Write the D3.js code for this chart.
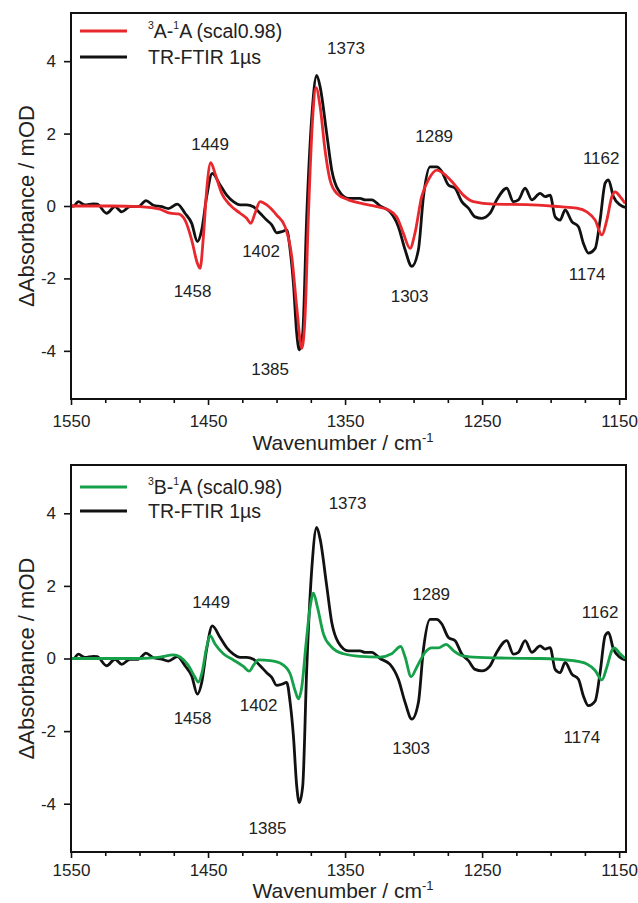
<!DOCTYPE html>
<html>
<head>
<meta charset="utf-8">
<script src="https://cdn.jsdelivr.net/npm/d3@7"></script>
<style>
  body { margin: 0; background: #fff; }
  svg text { font-family: "Liberation Sans", Arial, sans-serif; fill: #222; }
</style>
</head>
<body>
<svg id="chart" width="638" height="903"></svg>
<script>
// TR-FTIR 1us experimental spectrum (same in both panels)
const expWn = [1550, 1548, 1544.7, 1539.8, 1533.7, 1530.8, 1524, 1517.9, 1513, 1506.9, 1500.9, 1495.3, 1489.9, 1483.8, 1479, 1472.4,
  1466.8, 1461.9, 1457.8, 1454.6, 1451, 1446.9, 1441.2, 1436.4, 1431.5, 1426.6, 1421.8, 1416.9, 1412, 1407.2, 1403.5, 1399.9,
  1396.2, 1392.6, 1390.1, 1387.7, 1385.3, 1383.4, 1380.9, 1378, 1374.3, 1370.7, 1368.2, 1363.4, 1359.7, 1354.9, 1347.6, 1339.1,
  1335.4, 1330.5, 1324.5, 1317.2, 1311.1, 1306.2, 1301.3, 1296.5, 1292.8, 1288, 1283.1, 1279.4, 1274.6, 1269.7, 1264.8, 1260,
  1255.1, 1250.2, 1244.2, 1239.3, 1232, 1227.2, 1223.5, 1218.6, 1213.7, 1207.7, 1204, 1200.4, 1196.7, 1193.1, 1189.4, 1184.5,
  1179.7, 1176.1, 1172.4, 1167.5, 1163.9, 1160.2, 1157.8, 1154.2, 1149.3, 1145.6];
const expAbs = [0, 0, 0.12, 0.03, 0.06, 0.05, -0.2, -0.02, -0.16, -0.02, -0.02, 0.15, 0.02, -0.02, -0.07, 0.05,
  -0.2, -0.48, -0.98, -0.66, 0.26, 0.9, 0.58, 0.3, 0.12, 0.03, 0.03, -0.02, -0.2, -0.39, -0.52, -0.74,
  -0.71, -0.66, -1.21, -2.13, -3.51, -3.97, -3.51, -0.3, 2.46, 3.61, 3.29, 2.0, 0.99, 0.44, 0.21, 0.21,
  0.17, 0.17, 0.0, -0.16, -0.57, -1.21, -1.67, -1.21, 0.26, 1.08, 1.08, 0.95, 0.58, 0.49, 0.12, -0.06,
  -0.3, -0.34, -0.2, 0.17, 0.49, 0.12, 0.17, 0.49, 0.17, 0.35, 0.26, 0.3, -0.3, -0.39, -0.11, -0.43,
  -0.57, -1.03, -1.3, -1.17, -0.39, 0.63, 0.72, 0.26, 0.03, -0.04];

// 3A-1A computed (scaled 0.98)
const calcAWn = [1550, 1520, 1500, 1485, 1477.7, 1471.7, 1466.8, 1461.9, 1457.8, 1455.8, 1453.4, 1451, 1448, 1444.9, 1440, 1434,
  1426.6, 1421.8, 1418.8, 1415.7, 1412, 1407.2, 1399.9, 1393.8, 1388.9, 1385.3, 1381.6, 1379.2, 1376.8, 1373.6, 1371.2, 1368.2,
  1364.6, 1361, 1356.1, 1347.6, 1336.7, 1326.9, 1318.4, 1312.3, 1307.5, 1302.6, 1299, 1294.1, 1289.2, 1283.1, 1278.3, 1271,
  1263.7, 1256.4, 1241.8, 1217.4, 1193.1, 1180.9, 1173.6, 1167.5, 1162.6, 1159, 1155.3, 1152.9, 1149.3, 1145.6];
const calcAAbs = [0, 0, -0.02, -0.09, -0.2, -0.22, -0.39, -0.94, -1.58, -1.72, -0.85, 0.44, 1.2, 0.9, 0.35, 0.03,
  -0.2, -0.34, -0.48, -0.2, 0.12, 0.03, -0.25, -0.57, -1.4, -2.78, -3.93, -3.05, -0.3, 2.46, 3.27, 2.74,
  1.54, 0.72, 0.35, 0.17, 0.06, -0.02, -0.11, -0.3, -0.75, -1.17, -0.75, 0.26, 0.72, 0.99, 0.9, 0.63,
  0.3, 0.12, 0.05, 0.04, -0.02, -0.06, -0.16, -0.39, -0.8, -0.39, 0.26, 0.39, 0.26, 0.07];

// 3B-1A computed (scaled 0.98)
const calcBWn = [1550, 1500, 1485, 1475.3, 1470.4, 1464.4, 1459.5, 1457.1, 1454.6, 1451, 1448.5, 1444.9, 1438.8, 1431.5, 1424.2,
  1419.9, 1416.9, 1413.3, 1404.7, 1396.2, 1390.1, 1386.5, 1384.1, 1381.6, 1378.5, 1375.5, 1373.1, 1370.2, 1365.8, 1359.7, 1351.2,
  1339.1, 1324.5, 1316, 1309.4, 1306.2, 1301.8, 1297.7, 1291.6, 1286.8, 1281.9, 1276.3, 1271, 1264.8, 1256.4, 1232, 1207.7,
  1183.4, 1173.6, 1167.5, 1162.6, 1159, 1155.3, 1153.6, 1149.3, 1145.6];
const calcBAbs = [0, 0, 0.04, 0.1, 0.04, -0.19, -0.52, -0.65, -0.42, 0.31, 0.63, 0.4, 0.13, -0.04, -0.22,
  -0.35, -0.19, -0.04, -0.06, -0.15, -0.42, -0.88, -1.11, -0.79, 0.4, 1.42, 1.8, 1.42, 0.68, 0.31, 0.13,
  0.06, 0.04, 0.13, 0.33, 0.04, -0.5, -0.24, 0.17, 0.29, 0.29, 0.39, 0.22, 0.08, 0.04, 0.01, 0,
  -0.06, -0.15, -0.33, -0.59, -0.24, 0.22, 0.29, 0.13, 0];

// peak annotations: text and label position [wavenumber, mOD]
const peakLabels = ["1449", "1373", "1289", "1162", "1458", "1402", "1385", "1303", "1174"];
const peakPosTop = [[1448.5, 1.71], [1349.3, 4.36], [1285.0, 1.93], [1163.1, 1.32], [1461.3, -2.37],
  [1411.3, -1.27], [1404.7, -4.52], [1302.9, -2.51], [1173.4, -1.88]];
const peakPosBottom = [[1447.8, 1.54], [1348.2, 4.28], [1287.2, 1.77], [1163.9, 1.27], [1461.3, -1.66],
  [1413.1, -1.30], [1406.6, -4.69], [1301.8, -2.48], [1177.2, -2.18]];

const xMajor = [1550, 1450, 1350, 1250, 1150];
const xMinor = [1525, 1500, 1475, 1425, 1400, 1375, 1325, 1300, 1275, 1225, 1200, 1175];
const yTicks = [-4, -2, 0, 2, 4];

const svg = d3.select("#chart");

const x = d3.scaleLinear().domain([1550, 1145]).range([71, 626]);

function drawPanel(p) {
  const y = d3.scaleLinear().domain([-5.33, 5.33]).range([p.bottom, p.top]);
  const g = svg.append("g");

  const clipId = "clip" + p.id;
  g.append("clipPath").attr("id", clipId)
    .append("rect")
    .attr("x", 71).attr("y", p.top)
    .attr("width", 555).attr("height", p.bottom - p.top);

  const line = d3.line()
    .x(d => x(d[0]))
    .y(d => y(d[1]))
    .curve(d3.curveMonotoneX);

  const expData = expWn.map((w, i) => [w, expAbs[i]]);
  const calcData = p.calcWn.map((w, i) => [w, p.calcAbs[i]]);

  const curves = g.append("g").attr("clip-path", `url(#${clipId})`);
  curves.append("path").datum(expData)
    .attr("d", line).attr("fill", "none")
    .attr("stroke", "#111").attr("stroke-width", 2.8).attr("stroke-linejoin", "round");
  curves.append("path").datum(calcData)
    .attr("d", line).attr("fill", "none")
    .attr("stroke", p.color).attr("stroke-width", 2.8).attr("stroke-linejoin", "round");

  // axes
  g.append("g").attr("transform", `translate(0,${p.bottom})`)
    .call(d3.axisBottom(x).tickValues(xMajor).tickSize(6).tickPadding(p.xPad).tickFormat(d3.format("d")));
  g.append("g").attr("transform", `translate(0,${p.bottom})`)
    .call(d3.axisBottom(x).tickValues(xMinor).tickSize(4).tickFormat(""));
  g.append("g").attr("transform", "translate(71,0)")
    .call(d3.axisLeft(y).tickValues(yTicks).tickSize(7).tickPadding(8).tickFormat(d => String(d)));

  g.selectAll(".domain").remove();
  g.selectAll(".tick line").attr("stroke", "#111").attr("stroke-width", 1.6);
  g.selectAll(".tick text").attr("font-size", 17)
    .attr("font-family", "'Liberation Sans', Arial, sans-serif").attr("fill", "#222");

  // frame
  g.append("rect")
    .attr("x", 71).attr("y", p.top)
    .attr("width", 555).attr("height", p.bottom - p.top)
    .attr("fill", "none").attr("stroke", "#111").attr("stroke-width", 2);

  // peak labels
  g.selectAll(".peak").data(p.peaks).enter().append("text")
    .attr("class", "peak")
    .attr("x", d => x(d[0]))
    .attr("y", d => y(d[1]))
    .attr("text-anchor", "middle")
    .attr("dominant-baseline", "central")
    .attr("font-size", 17)
    .text((d, i) => peakLabels[i]);

  // legend
  const leg = g.append("g");
  leg.append("line").attr("x1", 80).attr("x2", 127).attr("y1", p.legY[0]).attr("y2", p.legY[0])
    .attr("stroke", p.color).attr("stroke-width", 3);
  leg.append("line").attr("x1", 80).attr("x2", 127).attr("y1", p.legY[1]).attr("y2", p.legY[1])
    .attr("stroke", "#111").attr("stroke-width", 3);
  const t1 = leg.append("text").attr("x", 148).attr("y", p.legY[0])
    .attr("dominant-baseline", "central").attr("font-size", 19.5);
  t1.append("tspan").attr("font-size", 10.5).attr("dy", -6).text(p.state);
  t1.append("tspan").attr("dy", 6).text(p.stateLetter + "-");
  t1.append("tspan").attr("font-size", 10.5).attr("dy", -6).text("1");
  t1.append("tspan").attr("dy", 6).text("A (scal0.98)");
  leg.append("text").attr("x", 148).attr("y", p.legY[1])
    .attr("dominant-baseline", "central").attr("font-size", 19.5)
    .text("TR-FTIR 1\u00b5s");

  // axis titles
  const xt = g.append("text").attr("x", 343).attr("y", p.bottom + p.titleOff)
    .attr("text-anchor", "middle").attr("font-size", 21);
  xt.append("tspan").text("Wavenumber / cm");
  xt.append("tspan").attr("font-size", 13).attr("dy", -8).text("-1");

  g.append("text")
    .attr("transform", `translate(26,${(p.top + p.bottom) / 2}) rotate(-90)`)
    .attr("text-anchor", "middle").attr("dominant-baseline", "central")
    .attr("font-size", 22)
    .text("\u0394Absorbance / mOD");
}

drawPanel({ id: 1, top: 13, bottom: 399, xPad: 10, titleOff: 51, legY: [31, 57],
  color: "#e8282d", calcWn: calcAWn, calcAbs: calcAAbs, peaks: peakPosTop, state: "3", stateLetter: "A" });
drawPanel({ id: 2, top: 465, bottom: 852, xPad: 6, titleOff: 46, legY: [487, 511],
  color: "#16a04a", calcWn: calcBWn, calcAbs: calcBAbs, peaks: peakPosBottom, state: "3", stateLetter: "B" });
</script>
</body>
</html>
